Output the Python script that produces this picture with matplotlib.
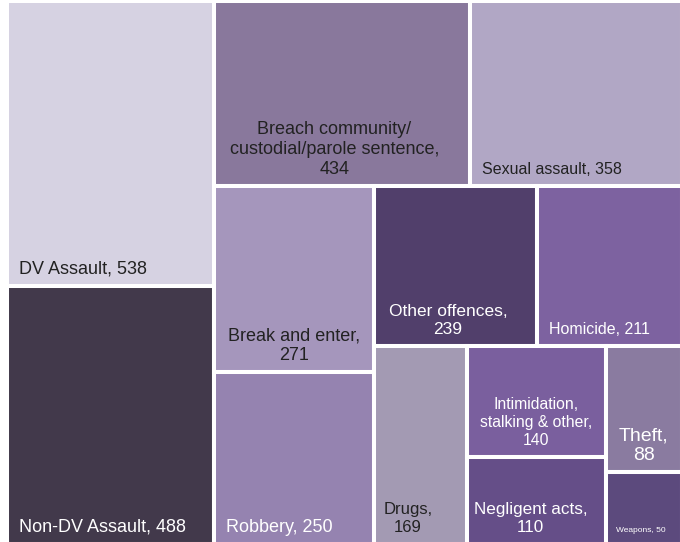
import matplotlib
matplotlib.use("Agg")
import matplotlib.pyplot as plt
from matplotlib.patches import Rectangle

categories = ["DV Assault", "Non-DV Assault", "Breach community/\ncustodial/parole sentence",
              "Sexual assault", "Break and enter", "Robbery", "Other offences", "Homicide",
              "Drugs", "Intimidation,\nstalking & other", "Negligent acts", "Theft", "Weapons"]
values = [538, 488, 434, 358, 271, 250, 239, 211, 169, 140, 110, 88, 50]
# valeur sur une nouvelle ligne ?
value_newline = [False, False, True, False, True, False, True, False, True, True, True, True, False]

colors = ["#D6D2E2", "#42394B", "#89789C", "#B1A7C5", "#A596BC", "#9583B0", "#513F6B",
          "#7D62A0", "#A39AB3", "#7A5F9E", "#654E88", "#8A7BA0", "#5C4A7D"]
# (alignement, fraction x, taille, couleur du texte)
label_style = [("left", 0, 13, "#222222"), ("left", 0, 13, "white"),
               ("center", 0.47, 13, "#222222"), ("left", 0, 11.5, "#222222"),
               ("center", 0.5, 13, "#222222"), ("left", 0, 13, "white"),
               ("center", 0.455, 12.5, "white"), ("left", 0, 11.5, "white"),
               ("left", 0, 12, "#222222"), ("center", 0.5, 11.3, "white"),
               ("center", 0.46, 12.3, "white"), ("center", 0.5, 14, "white"),
               ("left", 0, 6, "white")]

# decoupage en bandes comme dans le graphique Excel :
# 'col' = bande a gauche (elements empiles), 'row' = bande en haut (cote a cote)
bandes = [([0, 1], "col"), ([2, 3], "row"), ([4, 5], "col"), ([6, 7], "row"),
          ([8], "col"), ([9, 10], "col"), ([11, 12], "col")]


def decoupe(sizes, x, y, dx, dy):
    rects = {}
    for idx, sens in bandes:
        aire = sum(sizes[i] for i in idx)
        if sens == "col":
            w = aire / dy
            yy = y
            for i in idx:
                h = sizes[i] / w
                rects[i] = (x, yy, w, h)
                yy += h
            x, dx = x + w, dx - w
        else:
            h = aire / dx
            xx = x
            for i in idx:
                w = sizes[i] / h
                rects[i] = (xx, y, w, h)
                xx += w
            y, dy = y + h, dy - h
    return [rects[i] for i in range(len(sizes))]


X0, Y0, DX, DY = 7, 1, 675, 543
total = sum(values)
sizes = [v * DX * DY / total for v in values]
rects = decoupe(sizes, X0, Y0, DX, DY)

fig = plt.figure(figsize=(6.8, 5.42), dpi=100)
ax = fig.add_axes([0, 0, 1, 1])
ax.set_xlim(0, 680)
ax.set_ylim(542, 0)
ax.axis("off")

for i, (x, y, w, h) in enumerate(rects):
    ax.add_patch(Rectangle((x, y), w, h, facecolor=colors[i], edgecolor="white", linewidth=2.9))
    sep = "\n" if value_newline[i] else " "
    texte = f"{categories[i]},{sep}{values[i]}"
    mode, fx, fs, tc = label_style[i]
    if mode == "center":
        tx, ha = x + fx * w, "center"
    else:
        tx, ha = x + (10 if w < 120 else 12), "left"
    ax.text(tx, y + h - 12, texte, ha=ha, va="baseline", multialignment="center",
            fontsize=fs, color=tc, family=["Liberation Sans", "DejaVu Sans"], linespacing=1.25)

fig.savefig("out.png", dpi=100)
